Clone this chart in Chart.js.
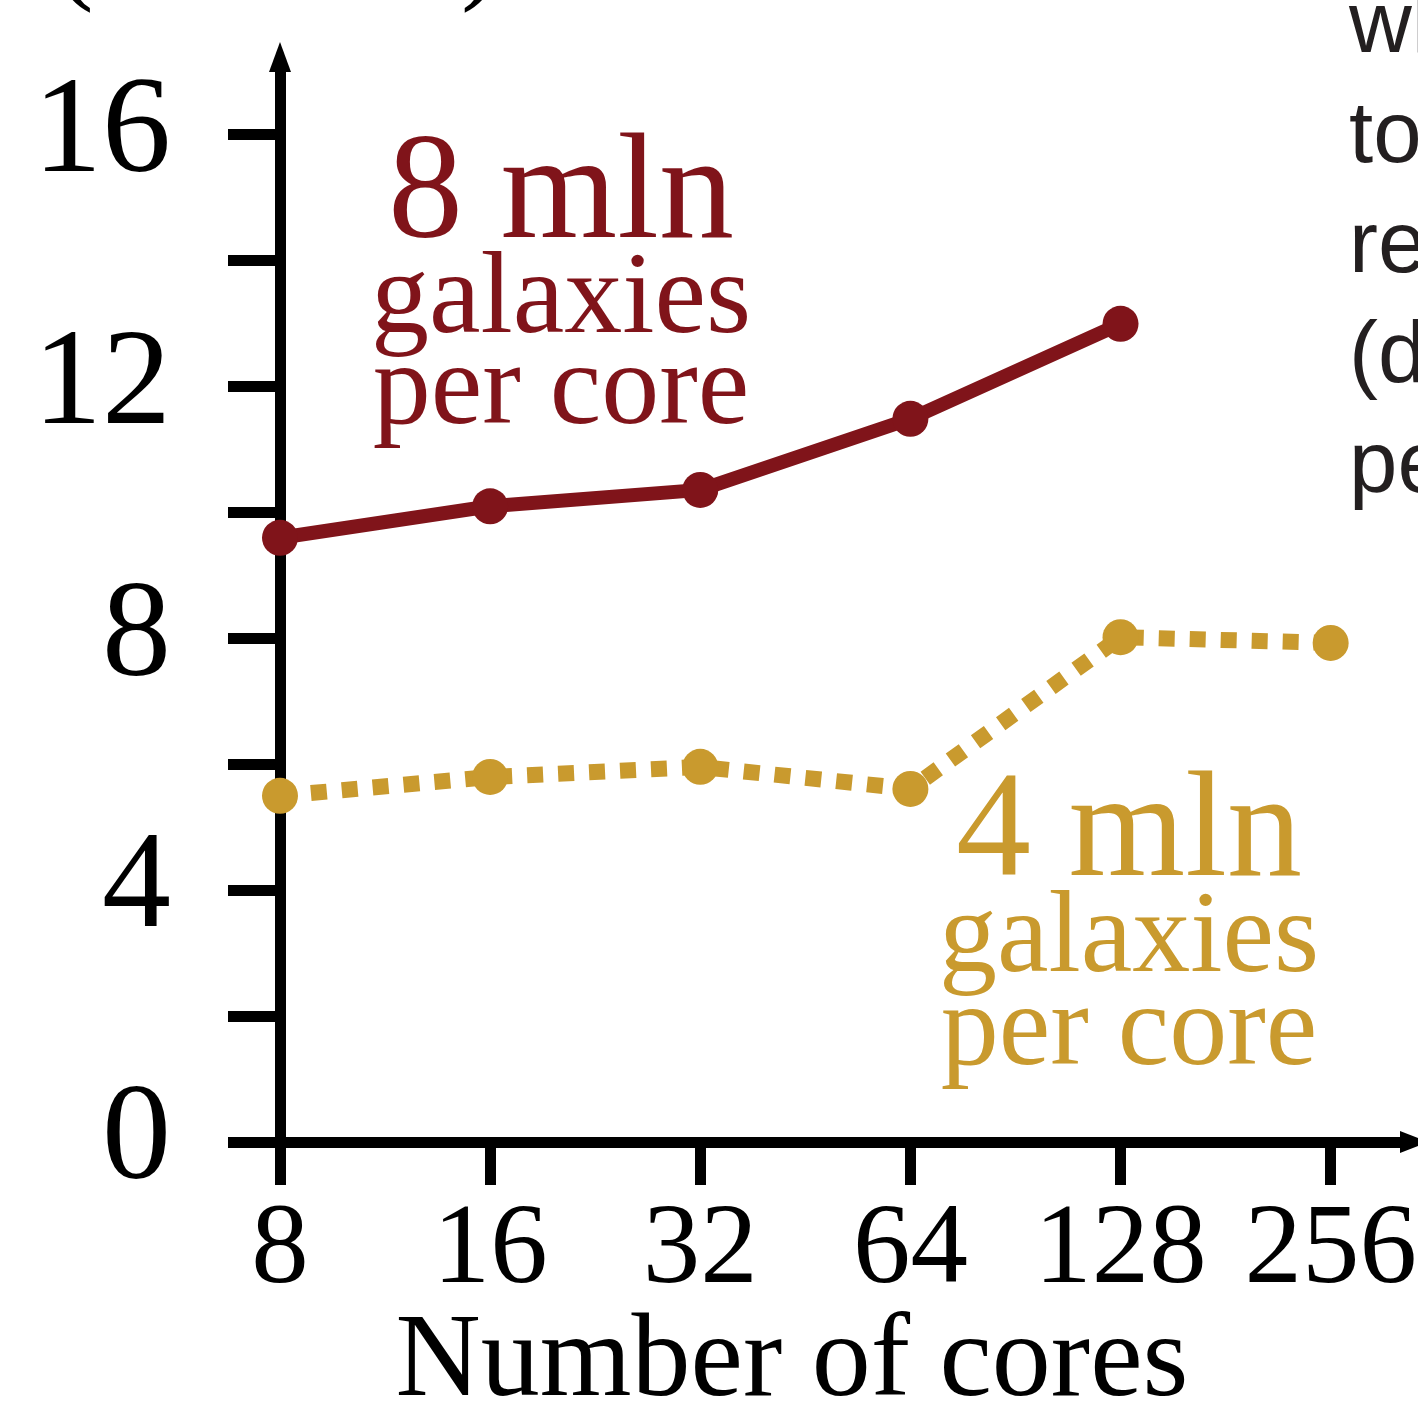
<!DOCTYPE html>
<html>
<head>
<meta charset="utf-8">
<script src="https://cdn.jsdelivr.net/npm/chart.js@4.4.0/dist/chart.umd.min.js"></script>
<style>
  html, body { margin: 0; padding: 0; background: #fff; overflow: hidden; }
</style>
</head>
<body>
<canvas id="chart" width="1418" height="1401"></canvas>
<script>
// values
const cores = ['8', '16', '32', '64', '128', '256'];
const time8mln = [9.6, 10.1, 10.36, 11.49, 13.0, null];
const time4mln = [5.5, 5.8, 5.96, 5.61, 8.02, 7.93];
const yTicks = [0, 2, 4, 6, 8, 10, 12, 14, 16];
const yLabelled = [0, 4, 8, 12, 16];

const RED = '#80141a';
const GOLD = '#c99a2e';
const SERIF = '"Liberation Serif", "Times New Roman", serif';
const SANS = '"Liberation Sans", Arial, sans-serif';

// arrows, annotations and the clipped text around the plot
const overlay = {
  id: 'overlay',
  afterDraw(chart) {
    const ctx = chart.ctx;
    const { left, top, right, bottom } = chart.chartArea;
    ctx.save();
    ctx.fillStyle = '#000';
    ctx.beginPath();
    ctx.moveTo(left, top - 30);
    ctx.lineTo(left - 11, top);
    ctx.lineTo(left + 11, top);
    ctx.closePath();
    ctx.fill();
    ctx.beginPath();
    ctx.moveTo(right + 28, bottom);
    ctx.lineTo(right, bottom - 11);
    ctx.lineTo(right, bottom + 11);
    ctx.closePath();
    ctx.fill();

    // bottom of a title cut off at the top edge
    ctx.font = '116px ' + SERIF;
    ctx.textAlign = 'left';
    ctx.textBaseline = 'alphabetic';
    ctx.fillText('(', 55, -12);
    ctx.fillText(')', 461, -12);

    // x axis title, sits left of the axis centre
    ctx.textAlign = 'center';
    ctx.font = '118px ' + SERIF;
    ctx.fillText('Number of cores', 792, 1395);

    ctx.fillStyle = RED;
    ctx.font = '150px ' + SERIF;
    ctx.fillText('8 mln', 561, 237);
    ctx.font = '116px ' + SERIF;
    ctx.fillText('galaxies', 561, 332);
    ctx.fillText('per core', 561, 423);

    ctx.fillStyle = GOLD;
    ctx.font = '150px ' + SERIF;
    ctx.fillText('4 mln', 1129, 875);
    ctx.font = '116px ' + SERIF;
    ctx.fillText('galaxies', 1129, 971);
    ctx.fillText('per core', 1129, 1064);

    // text running off the right edge
    ctx.textAlign = 'left';
    ctx.fillStyle = '#231f20';
    ctx.font = '87px ' + SANS;
    ['wh', 'to', 're', '(d', 'pe'].forEach((t, i) => ctx.fillText(t, 1349, 52 + 110 * i));
    ctx.restore();
  }
};

const ctx = document.getElementById('chart').getContext('2d');
new Chart(ctx, {
  type: 'line',
  data: {
    datasets: [
      {
        data: time8mln.map((v, i) => ({ x: i, y: v })),
        borderColor: RED,
        backgroundColor: RED,
        borderWidth: 14,
        pointRadius: 18,
        pointBorderWidth: 0,
        pointBackgroundColor: RED,
        clip: false
      },
      {
        data: time4mln.map((v, i) => ({ x: i, y: v })),
        borderColor: GOLD,
        backgroundColor: GOLD,
        borderWidth: 16,
        borderDash: [16, 15],
        borderCapStyle: 'butt',
        pointRadius: 18,
        pointBorderWidth: 0,
        pointBackgroundColor: GOLD,
        clip: false
      }
    ]
  },
  options: {
    responsive: false,
    animation: false,
    layout: { padding: { top: 72, right: 13, left: 0, bottom: 0 } },
    plugins: { legend: { display: false }, tooltip: { enabled: false } },
    scales: {
      x: {
        type: 'linear',
        min: 0,
        max: 5.33,
        afterBuildTicks: s => { s.ticks = cores.map((c, i) => ({ value: i })); },
        afterFit: s => { s.height = 259; s.paddingLeft = 0; s.paddingRight = 0; },
        grid: { drawOnChartArea: false, drawTicks: true, tickLength: 43, tickWidth: 11, lineWidth: 11, tickColor: '#000' },
        border: { display: true, width: 11, color: '#000' },
        ticks: {
          callback: v => cores[v],
          font: { family: SERIF, size: 115 },
          color: '#000',
          padding: -2,
          maxRotation: 0,
          autoSkip: false
        }
      },
      y: {
        min: 0,
        max: 17,
        afterBuildTicks: s => { s.ticks = yTicks.map(v => ({ value: v })); },
        afterFit: s => { s.width = 280; s.paddingTop = 0; s.paddingBottom = 0; },
        grid: { drawOnChartArea: false, drawTicks: true, tickLength: 52, tickWidth: 11, lineWidth: 11, tickColor: '#000' },
        border: { display: true, width: 11, color: '#000' },
        ticks: {
          callback: v => (yLabelled.includes(v) ? String(v) : ''),
          font: { family: SERIF, size: 138 },
          color: '#000',
          padding: 57,
          autoSkip: false
        }
      }
    }
  },
  plugins: [overlay]
});
</script>
</body>
</html>
